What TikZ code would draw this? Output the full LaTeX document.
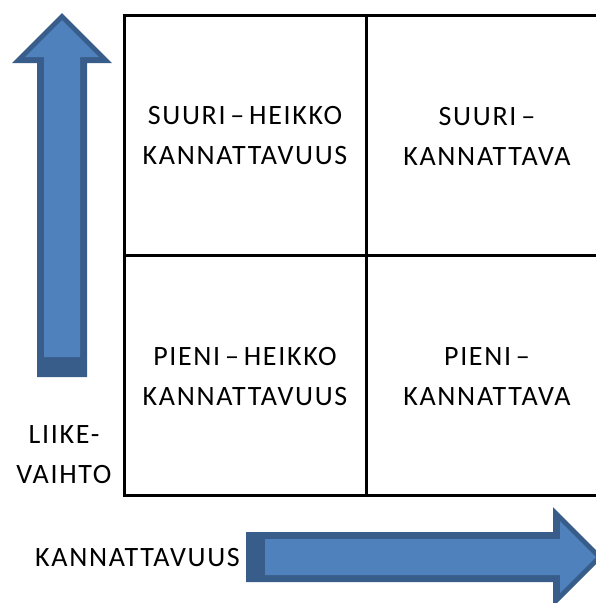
\documentclass[tikz,border=0pt]{standalone}
\usepackage{fontspec}
\setmainfont{Carlito}[LetterSpace=6,WordSpace=0.6]
\definecolor{nuolisini}{HTML}{4F81BD}
\definecolor{nuolireuna}{HTML}{385D8A}
\begin{document}
\begin{tikzpicture}[x=1pt,y=-1pt,
  teksti/.style={align=center,inner sep=0pt,font=\fontsize{28}{40}\selectfont},
  viiva/.style={line width=3pt}]
\clip (0,0) rectangle (596,603);

% ruudukko
\draw[viiva] (124,15) rectangle (608,495);
\draw[viiva] (366,15) -- (366,495);
\draw[viiva] (124,255) -- (608,255);

% ruutujen tekstit
\node[teksti] (suuriheikko) at (245,136) {SUURI -- HEIKKO\\KANNATTAVUUS};
\node[teksti] (suurikann) at (487,136) {SUURI --\\KANNATTAVA};
\node[teksti] (pieniheikko) at (245,377) {PIENI -- HEIKKO\\KANNATTAVUUS};
\node[teksti] (pienikann) at (487,377) {PIENI --\\KANNATTAVA};

% akselien nimet
\node[teksti] (liikevaihto) at (64,455) {LIIKE-\\VAIHTO};
\node[teksti] (kannattavuus) at (137.5,558) {KANNATTAVUUS};

% pystynuoli
\fill[nuolireuna] (62,13) -- (112,63) -- (87,63) -- (87,377) -- (37,377) -- (37,63) -- (12,63) -- cycle;
\fill[nuolisini] (62,20) -- (99,57) -- (80,57) -- (80,357) -- (44,357) -- (44,57) -- (25,57) -- cycle;

% vaakanuoli
\fill[nuolireuna] (246,532) -- (553,532) -- (553,507) -- (603,557) -- (553,607) -- (553,582) -- (246,582) -- cycle;
\fill[nuolisini] (265,539) -- (560,539) -- (560,521) -- (596,557) -- (560,593) -- (560,575) -- (265,575) -- cycle;

\end{tikzpicture}
\end{document}
